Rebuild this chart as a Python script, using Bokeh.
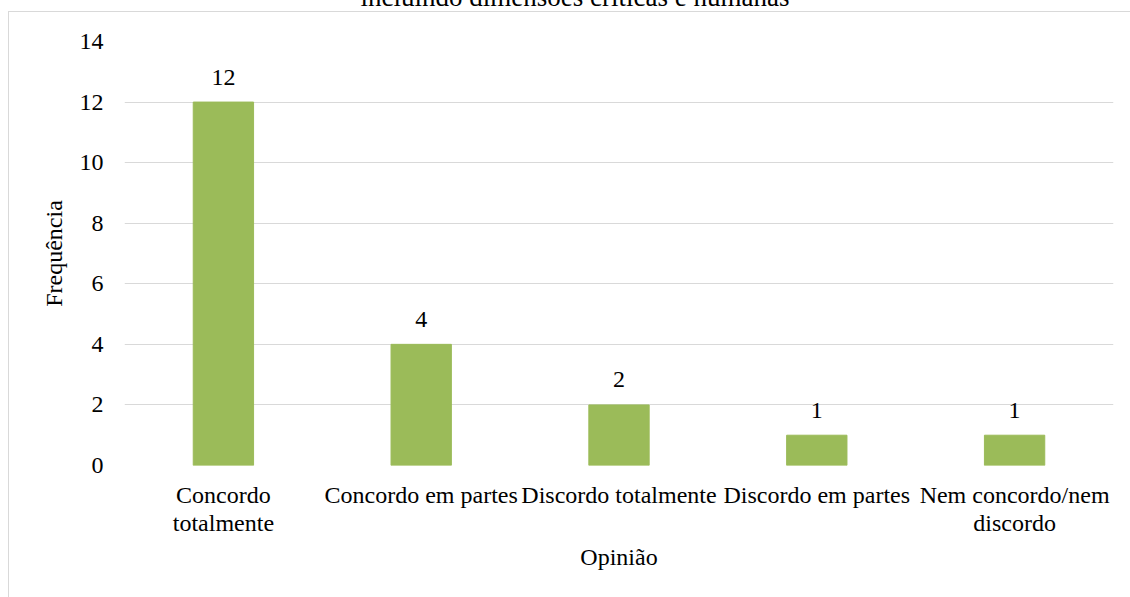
from bokeh.plotting import figure
from bokeh.models import ColumnDataSource, Range1d, FactorRange, SingleIntervalTicker, Div
from bokeh.layouts import column, row
from bokeh.embed import file_html
from bokeh.resources import INLINE
from bokeh.core.properties import value

# ---- data ----
categories = ["Concordo\ntotalmente", "Concordo em partes", "Discordo totalmente",
              "Discordo em partes", "Nem concordo/nem\ndiscordo"]
frequencies = [12, 4, 2, 1, 1]
title_text = "incluindo dimensões críticas e humanas"
x_title = "Opinião"
y_title = "Frequência"

FONT = "Liberation Serif"
FS = "24px"
BAR = "#9BBB59"
GRID = "#D9D9D9"

src = ColumnDataSource(dict(cat=categories, freq=frequencies,
                            lab=[str(v) for v in frequencies]))

p = figure(width=1121, height=585, output_backend="svg", toolbar_location=None,
           x_range=FactorRange(*categories, range_padding=0),
           y_range=Range1d(0, 14),
           min_border_left=115, min_border_right=17,
           min_border_top=29, min_border_bottom=132, margin=0)

p.vbar(x="cat", top="freq", width=0.305, source=src, color=BAR)
p.text(x="cat", y="freq", text="lab", source=src, text_align="center",
       text_baseline="middle", y_offset=-25, text_font=value(FONT),
       text_font_size=FS, text_color="#000000")

p.outline_line_color = None
p.background_fill_color = "white"
p.border_fill_color = "white"

p.xgrid.grid_line_color = None
p.ygrid.grid_line_color = GRID
p.ygrid.grid_line_width = 1

p.yaxis.ticker = SingleIntervalTicker(interval=2)
for ax in (p.xaxis[0], p.yaxis[0]):
    ax.axis_line_color = None
    ax.major_tick_line_color = None
    ax.minor_tick_line_color = None
    ax.major_label_text_font = FONT
    ax.major_label_text_font_size = FS
    ax.major_label_text_color = "#000000"
    ax.axis_label_text_font = FONT
    ax.axis_label_text_font_size = FS
    ax.axis_label_text_font_style = "normal"
    ax.axis_label_text_color = "#000000"

p.yaxis.major_label_standoff = 15
p.yaxis.axis_label = y_title
p.yaxis.axis_label_standoff = 10
p.xaxis.major_label_standoff = 10
p.xaxis.axis_label = x_title
p.xaxis.axis_label_standoff = 5
p.xaxis.major_label_orientation = "horizontal"
p.xaxis.major_label_text_line_height = 1.1

# top strip: bottom of the (cut-off) title and the chart-area top border
top_html = (
    '<div style="position:relative;width:1130px;height:12px;overflow:hidden;background:white;">'
    '<div style="position:absolute;left:0;top:-18.5px;width:1150px;text-align:center;'
    "font-family:'Liberation Serif';font-size:27px;line-height:30px;color:#000;white-space:nowrap;\">"
    + title_text +
    '</div>'
    '<div style="position:absolute;left:8px;top:11px;width:1122px;height:1px;background:%s;"></div>'
    '</div>' % GRID
)
top = Div(text=top_html, width=1130, height=12, margin=0,
          styles={"overflow": "hidden", "padding": "0", "margin": "0"})

# left strip: chart-area left border
left_html = ('<div style="position:relative;width:9px;height:585px;background:white;">'
             '<div style="position:absolute;left:8px;top:0;width:1px;height:585px;background:%s;"></div>'
             '</div>' % GRID)
left = Div(text=left_html, width=9, height=585, margin=0,
           styles={"overflow": "hidden", "padding": "0", "margin": "0"})

layout = column(top, row(left, p, margin=0, spacing=0), margin=0, spacing=0)

open("out.html", "w").write(file_html(layout, INLINE))
